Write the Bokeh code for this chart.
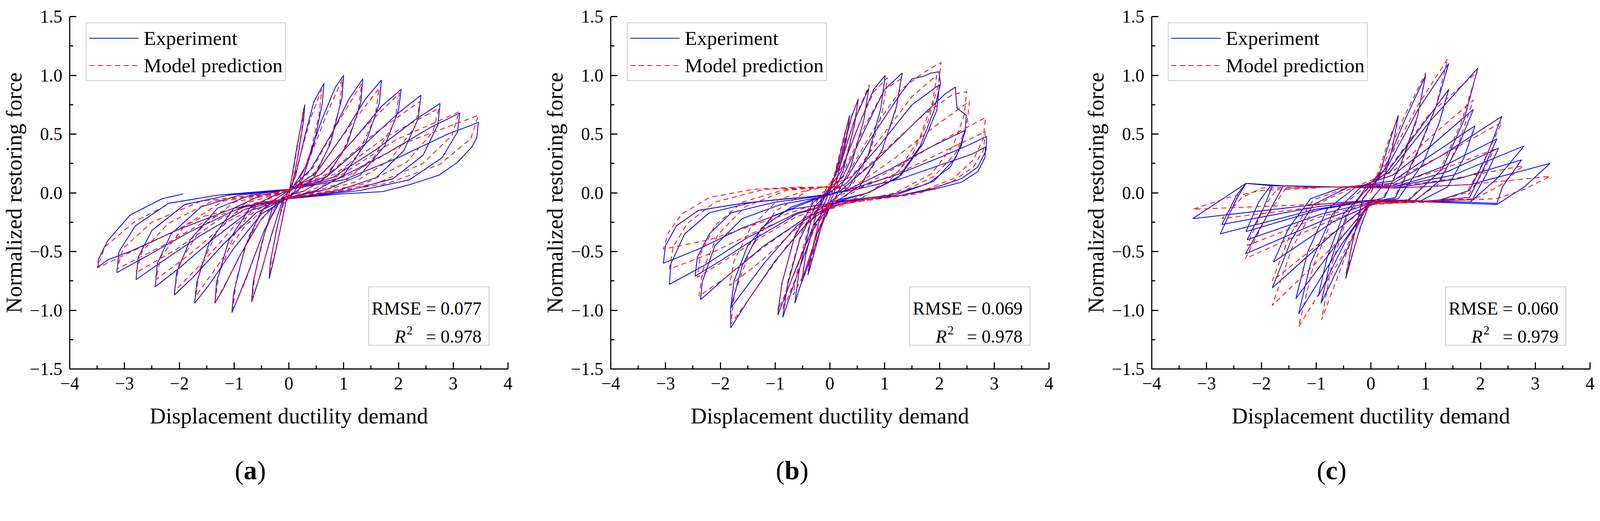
from bokeh.plotting import figure
from bokeh.models import (Range1d, FixedTicker, CustomJSTickFormatter, Legend, LegendItem,
                          BoxAnnotation, Label, Div)
from bokeh.layouts import row, column
from bokeh.embed import file_html
from bokeh.resources import INLINE

FONT = "Liberation Serif"

# ---------------- axis ticks ----------------
x_ticks = [-4, -3, -2, -1, 0, 1, 2, 3, 4]
x_minor = [-3.5, -2.5, -1.5, -0.5, 0.5, 1.5, 2.5, 3.5]
y_ticks = [-1.5, -1.0, -0.5, 0.0, 0.5, 1.0, 1.5]
y_minor = [-1.25, -0.75, -0.25, 0.25, 0.75, 1.25]

x_title = "Displacement ductility demand"
y_title = "Normalized restoring force"
series_names = ["Experiment", "Model prediction"]
panel_tags = ["a", "b", "c"]
rmse_vals = ["0.077", "0.069", "0.060"]
r2_vals = ["0.978", "0.978", "0.979"]

# ---------------- panel (a) ----------------
a_exp = [
(0,0),
(0.05,0.12),(0.15,0.40),(0.24,0.62),(0.29,0.75),(0.27,0.62),(0.17,0.32),(0.06,0.06),(-0.05,-0.07),(-0.16,-0.32),(-0.28,-0.58),(-0.36,-0.73),(-0.34,-0.60),(-0.22,-0.30),(-0.10,-0.07),
(0.00,0.02),(0.12,0.14),(0.30,0.50),(0.46,0.78),(0.64,0.93),(0.61,0.76),(0.46,0.42),(0.26,0.13),(0.06,-0.02),(-0.12,-0.07),(-0.32,-0.36),(-0.52,-0.70),(-0.68,-0.92),(-0.65,-0.76),(-0.49,-0.42),(-0.30,-0.13),(-0.10,-0.03),
(0.05,0.03),(0.30,0.22),(0.60,0.62),(0.85,0.90),(1.00,1.00),(0.97,0.81),(0.76,0.42),(0.46,0.13),(0.10,0.00),(-0.15,-0.06),(-0.45,-0.32),(-0.76,-0.70),(-0.95,-0.92),(-1.04,-1.02),(-1.01,-0.86),(-0.80,-0.46),(-0.50,-0.15),(-0.20,-0.04),
(0.00,0.02),(0.40,0.20),(0.80,0.52),(1.10,0.80),(1.35,0.97),(1.31,0.76),(1.06,0.41),(0.70,0.14),(0.30,0.02),(-0.10,-0.04),(-0.50,-0.22),(-0.90,-0.54),(-1.20,-0.82),(-1.35,-0.94),(-1.32,-0.76),(-1.10,-0.41),(-0.70,-0.12),(-0.30,-0.03),
(0.00,0.02),(0.50,0.17),(1.00,0.50),(1.40,0.80),(1.69,0.96),(1.65,0.76),(1.40,0.42),(1.00,0.15),(0.50,0.02),(0.00,-0.04),(-0.50,-0.18),(-1.00,-0.47),(-1.45,-0.78),(-1.72,-0.94),(-1.68,-0.76),(-1.45,-0.42),(-1.00,-0.13),(-0.50,-0.02),
(0.00,0.03),(0.60,0.16),(1.20,0.46),(1.70,0.74),(2.05,0.88),(2.00,0.70),(1.75,0.40),(1.30,0.15),(0.70,0.03),(0.00,-0.04),(-0.60,-0.17),(-1.20,-0.44),(-1.75,-0.72),(-2.09,-0.87),(-2.05,-0.68),(-1.80,-0.40),(-1.30,-0.13),(-0.70,-0.02),
(0.00,0.03),(0.70,0.14),(1.40,0.42),(2.00,0.68),(2.41,0.83),(2.36,0.63),(2.10,0.36),(1.60,0.13),(0.90,0.02),(0.00,-0.05),(-0.70,-0.15),(-1.40,-0.40),(-2.00,-0.64),(-2.44,-0.80),(-2.40,-0.60),(-2.15,-0.35),(-1.60,-0.12),(-0.90,-0.02),
(0.00,0.03),(0.80,0.13),(1.60,0.37),(2.30,0.62),(2.76,0.76),(2.72,0.58),(2.45,0.32),(1.90,0.12),(1.10,0.02),(0.00,-0.05),(-0.80,-0.14),(-1.60,-0.36),(-2.30,-0.58),(-2.79,-0.74),(-2.75,-0.55),(-2.50,-0.32),(-1.90,-0.10),(-1.10,-0.02),
(0.00,0.03),(0.90,0.12),(1.80,0.34),(2.60,0.56),(3.12,0.68),(3.08,0.52),(2.80,0.30),(2.20,0.11),(1.30,0.02),(0.00,-0.05),(-0.90,-0.13),(-1.80,-0.33),(-2.60,-0.54),(-3.14,-0.68),(-3.10,-0.50),(-2.80,-0.28),(-2.20,-0.09),(-1.30,-0.02),
(0.00,0.03),(1.00,0.11),(2.00,0.30),(2.90,0.50),(3.30,0.57),(3.46,0.60),(3.43,0.47),(3.34,0.39),(3.08,0.26),(2.74,0.15),(2.21,0.07),(1.71,0.01),(0.95,-0.01),(0.00,-0.05),(-1.00,-0.13),(-2.00,-0.31),(-2.90,-0.50),(-3.30,-0.57),(-3.48,-0.63),(-3.48,-0.57),(-3.31,-0.41),(-2.90,-0.19),(-2.31,-0.05),(-1.93,-0.01),
]
a_mod = [
(0,0),
(0.08,0.18),(0.18,0.46),(0.27,0.72),(0.24,0.55),(0.14,0.25),(0.04,0.04),(-0.06,-0.08),(-0.18,-0.36),(-0.35,-0.70),(-0.31,-0.52),(-0.18,-0.22),(-0.06,-0.04),
(0.05,0.05),(0.20,0.30),(0.40,0.64),(0.60,0.88),(0.55,0.66),(0.38,0.32),(0.18,0.08),(0.00,-0.04),(-0.20,-0.18),(-0.45,-0.58),(-0.68,-0.94),(-0.62,-0.70),(-0.44,-0.34),(-0.22,-0.08),(-0.05,-0.01),
(0.10,0.04),(0.35,0.26),(0.70,0.68),(0.98,0.97),(0.92,0.72),(0.70,0.36),(0.40,0.10),(0.08,-0.02),(-0.20,-0.08),(-0.50,-0.38),(-0.80,-0.76),(-1.02,-0.99),(-0.96,-0.74),(-0.74,-0.38),(-0.42,-0.10),(-0.10,-0.01),
(0.10,0.04),(0.45,0.22),(0.90,0.60),(1.33,0.93),(1.26,0.68),(0.98,0.34),(0.60,0.10),(0.15,-0.02),(-0.25,-0.08),(-0.65,-0.32),(-1.05,-0.68),(-1.35,-0.94),(-1.28,-0.70),(-1.00,-0.36),(-0.60,-0.10),(-0.15,-0.01),
(0.10,0.04),(0.55,0.20),(1.10,0.56),(1.65,0.89),(1.57,0.64),(1.25,0.32),(0.80,0.10),(0.20,-0.02),(-0.30,-0.08),(-0.80,-0.28),(-1.30,-0.62),(-1.70,-0.88),(-1.62,-0.64),(-1.30,-0.32),(-0.80,-0.09),(-0.20,-0.01),
(0.10,0.04),(0.65,0.18),(1.35,0.54),(2.02,0.85),(1.93,0.60),(1.55,0.30),(1.00,0.09),(0.25,-0.02),(-0.35,-0.08),(-0.95,-0.26),(-1.55,-0.58),(-2.09,-0.84),(-2.00,-0.60),(-1.60,-0.30),(-1.00,-0.08),(-0.25,-0.01),
(0.10,0.04),(0.75,0.17),(1.55,0.50),(2.40,0.78),(2.30,0.56),(1.85,0.28),(1.20,0.09),(0.30,-0.02),(-0.40,-0.08),(-1.10,-0.24),(-1.80,-0.52),(-2.43,-0.74),(-2.33,-0.54),(-1.90,-0.28),(-1.20,-0.07),(-0.30,-0.01),
(0.10,0.04),(0.85,0.16),(1.75,0.47),(2.74,0.72),(2.63,0.52),(2.15,0.26),(1.40,0.08),(0.35,-0.02),(-0.45,-0.08),(-1.25,-0.22),(-2.05,-0.48),(-2.79,-0.68),(-2.68,-0.50),(-2.20,-0.26),(-1.40,-0.07),(-0.35,-0.01),
(0.10,0.04),(0.95,0.15),(1.95,0.45),(3.11,0.69),(2.98,0.49),(2.45,0.25),(1.60,0.08),(0.40,-0.02),(-0.50,-0.08),(-1.40,-0.21),(-2.30,-0.45),(-3.14,-0.65),(-3.02,-0.47),(-2.50,-0.25),(-1.60,-0.07),(-0.40,-0.01),
(0.10,0.04),(1.05,0.14),(2.15,0.43),(3.46,0.66),(3.32,0.46),(2.75,0.24),(1.80,0.08),(0.45,-0.02),(-0.55,-0.08),(-1.55,-0.20),(-2.55,-0.43),(-3.50,-0.64),(-3.36,-0.46),(-2.80,-0.24),(-2.20,-0.10),
]

# ---------------- panel (b) ----------------
b_exp = [
(0,0),
(0.15,0.25),(0.30,0.55),(0.36,0.66),(0.30,0.45),(0.12,0.10),(-0.05,-0.10),(-0.25,-0.45),(-0.40,-0.70),(-0.33,-0.50),(-0.15,-0.15),(0.00,0.02),
(0.20,0.30),(0.40,0.65),(0.52,0.80),(0.45,0.58),(0.25,0.20),(0.02,-0.06),(-0.20,-0.35),(-0.40,-0.62),(-0.51,-0.76),(-0.45,-0.55),(-0.25,-0.18),(-0.05,0.00),
(0.20,0.25),(0.45,0.62),(0.71,0.89),(0.62,0.62),(0.38,0.22),(0.08,-0.06),(-0.20,-0.30),(-0.45,-0.66),(-0.64,-0.94),(-0.56,-0.66),(-0.35,-0.25),(-0.08,0.00),
(0.20,0.18),(0.55,0.60),(0.80,0.88),(1.01,1.00),(0.93,0.72),(0.70,0.32),(0.35,0.05),(0.00,-0.08),(-0.30,-0.28),(-0.65,-0.68),(-0.95,-1.04),(-0.88,-0.78),(-0.65,-0.38),(-0.30,-0.08),(-0.05,0.00),
(0.25,0.15),(0.65,0.55),(1.00,0.88),(1.32,1.02),(1.22,0.74),(0.95,0.36),(0.55,0.06),(0.10,-0.08),(-0.25,-0.25),(-0.60,-0.70),(-0.86,-1.06),(-0.78,-0.80),(-0.55,-0.40),(-0.25,-0.10),(0.00,0.00),
(0.30,0.12),(0.80,0.50),(1.30,0.85),(1.50,0.97),(1.70,0.99),(1.85,1.02),(1.99,1.03),(2.02,0.93),(1.90,0.70),(1.65,0.40),(1.25,0.13),(0.70,0.00),(0.10,-0.08),(-0.40,-0.25),(-1.00,-0.58),(-1.50,-0.92),(-1.81,-1.15),(-1.81,-0.98),(-1.60,-0.62),(-1.25,-0.30),(-0.70,-0.12),(-0.15,-0.03),
(0.30,0.08),(0.90,0.40),(1.50,0.75),(2.00,0.92),(1.95,0.70),(1.70,0.42),(1.30,0.15),(0.70,0.00),(0.00,-0.08),(-0.60,-0.28),(-1.20,-0.60),(-1.81,-0.98),(-1.75,-0.75),(-1.50,-0.45),(-1.05,-0.20),(-0.40,-0.08),
(0.20,0.02),(0.90,0.30),(1.60,0.62),(2.10,0.84),(2.29,0.90),(2.32,0.72),(2.49,0.66),(2.47,0.52),(2.30,0.30),(1.90,0.10),(1.20,-0.02),(0.30,-0.08),(-0.40,-0.20),(-1.20,-0.45),(-1.90,-0.72),(-2.36,-0.91),(-2.33,-0.76),(-2.10,-0.45),(-1.60,-0.22),(-0.90,-0.10),(-0.20,-0.04),
(0.30,0.02),(1.10,0.20),(1.80,0.38),(2.46,0.53),(2.40,0.40),(2.20,0.22),(1.80,0.08),(1.10,-0.02),(0.20,-0.07),(-0.60,-0.18),(-1.40,-0.40),(-2.00,-0.58),(-2.46,-0.71),(-2.42,-0.55),(-2.20,-0.35),(-1.80,-0.17),(-1.00,-0.08),(-0.20,-0.03),
(0.30,0.02),(1.20,0.15),(2.00,0.30),(2.50,0.40),(2.86,0.48),(2.85,0.36),(2.70,0.22),(2.40,0.12),(1.90,0.04),(1.20,-0.03),(0.30,-0.07),(-0.60,-0.17),(-1.50,-0.38),(-2.30,-0.62),(-2.93,-0.78),(-2.90,-0.60),(-2.65,-0.35),(-2.20,-0.17),(-1.40,-0.08),(-0.30,-0.03),
(0.40,0.02),(1.30,0.12),(2.10,0.25),(2.60,0.33),(2.84,0.39),(2.83,0.30),(2.70,0.18),(2.40,0.09),(1.90,0.03),(1.20,-0.03),(0.30,-0.07),(-0.70,-0.14),(-1.60,-0.30),(-2.40,-0.48),(-3.04,-0.60),(-3.00,-0.45),(-2.80,-0.28),(-2.40,-0.15),(-1.60,-0.09),(-0.80,-0.05),(0.00,-0.02),
]
b_mod = [
(0,0),
(0.15,0.28),(0.30,0.56),(0.36,0.64),(0.28,0.42),(0.10,0.08),(-0.08,-0.14),(-0.28,-0.48),(-0.40,-0.66),(-0.30,-0.44),(-0.12,-0.10),(0.02,0.04),
(0.20,0.34),(0.40,0.66),(0.52,0.80),(0.43,0.55),(0.22,0.16),(0.00,-0.08),(-0.22,-0.38),(-0.42,-0.64),(-0.52,-0.76),(-0.44,-0.52),(-0.22,-0.14),(-0.02,0.04),
(0.22,0.30),(0.48,0.66),(0.72,0.92),(0.62,0.62),(0.36,0.20),(0.06,-0.08),(-0.22,-0.34),(-0.46,-0.68),(-0.67,-0.87),(-0.58,-0.62),(-0.34,-0.22),(-0.06,0.04),
(0.22,0.22),(0.55,0.60),(0.80,0.86),(1.05,0.98),(0.96,0.70),(0.70,0.30),(0.35,0.02),(0.00,-0.08),(-0.32,-0.32),(-0.66,-0.70),(-0.95,-1.00),(-0.86,-0.74),(-0.62,-0.34),(-0.28,-0.04),(0.00,0.04),
(0.25,0.18),(0.65,0.58),(1.00,0.88),(1.30,0.97),(1.20,0.70),(0.92,0.32),(0.50,0.02),(0.05,-0.08),(-0.28,-0.30),(-0.60,-0.70),(-0.86,-1.00),(-0.76,-0.74),(-0.52,-0.34),(-0.20,-0.04),(0.05,0.05),
(0.35,0.18),(0.85,0.58),(1.30,0.88),(1.70,1.02),(2.03,1.11),(1.98,0.92),(1.80,0.62),(1.50,0.32),(1.05,0.08),(0.40,-0.06),(-0.20,-0.16),(-0.80,-0.46),(-1.35,-0.82),(-1.81,-1.12),(-1.74,-0.86),(-1.45,-0.48),(-1.00,-0.16),(-0.40,0.02),(0.00,0.06),
(0.40,0.14),(0.95,0.48),(1.50,0.82),(1.95,1.00),(1.88,0.78),(1.65,0.48),(1.25,0.18),(0.60,-0.04),(0.00,-0.10),(-0.60,-0.30),(-1.25,-0.58),(-1.83,-0.79),(-1.75,-0.58),(-1.45,-0.30),(-0.95,-0.06),(-0.30,0.04),
(0.30,0.06),(1.00,0.36),(1.70,0.66),(2.25,0.84),(2.50,0.86),(2.45,0.66),(2.25,0.40),(1.85,0.16),(1.20,0.00),(0.40,-0.08),(-0.40,-0.20),(-1.20,-0.46),(-1.90,-0.72),(-2.39,-0.88),(-2.32,-0.66),(-2.05,-0.36),(-1.55,-0.12),(-0.80,0.02),(-0.10,0.05),
(0.40,0.04),(1.20,0.30),(1.90,0.56),(2.55,0.78),(2.50,0.58),(2.30,0.34),(1.90,0.14),(1.20,-0.02),(0.30,-0.08),(-0.60,-0.20),(-1.40,-0.42),(-2.00,-0.60),(-2.42,-0.72),(-2.36,-0.52),(-2.10,-0.28),(-1.60,-0.08),(-0.80,0.03),(-0.10,0.05),
(0.50,0.03),(1.30,0.24),(2.10,0.46),(2.60,0.58),(2.84,0.64),(2.80,0.46),(2.62,0.28),(2.25,0.12),(1.60,0.00),(0.60,-0.07),(-0.40,-0.14),(-1.30,-0.32),(-2.20,-0.52),(-2.93,-0.65),(-2.86,-0.46),(-2.60,-0.26),(-2.10,-0.08),(-1.20,0.03),(-0.20,0.05),
(0.50,0.03),(1.40,0.20),(2.20,0.38),(2.84,0.52),(2.80,0.36),(2.62,0.22),(2.25,0.10),(1.60,-0.01),(0.60,-0.07),(-0.40,-0.12),(-1.30,-0.26),(-2.20,-0.40),(-3.04,-0.48),(-2.95,-0.34),(-2.70,-0.18),(-2.20,-0.04),(-1.40,0.03),(-0.50,0.05),
]

# ---------------- panel (c) ----------------
c_exp = [
(0,0),
(0.15,0.15),(0.35,0.45),(0.50,0.66),(0.40,0.40),(0.20,0.05),(0.00,-0.06),(-0.20,-0.30),(-0.46,-0.73),(-0.35,-0.45),(-0.15,-0.05),(0.00,0.04),
(0.25,0.20),(0.60,0.60),(1.00,1.00),(0.85,0.65),(0.55,0.25),(0.25,-0.04),(-0.05,-0.08),(-0.40,-0.45),(-0.91,-0.94),(-0.75,-0.60),(-0.45,-0.20),(-0.10,0.04),
(0.30,0.22),(0.85,0.70),(1.42,1.10),(1.20,0.75),(0.85,0.35),(0.45,-0.04),(0.00,-0.08),(-0.45,-0.40),(-0.96,-0.88),(-0.80,-0.55),(-0.50,-0.18),(-0.05,0.04),
(0.30,0.18),(0.90,0.55),(1.42,0.88),(1.25,0.60),(0.95,0.25),(0.50,-0.05),(0.00,-0.08),(-0.55,-0.45),(-1.32,-1.03),(-1.10,-0.60),(-0.70,-0.18),(-0.20,0.04),
(0.35,0.18),(1.10,0.62),(1.95,1.06),(1.70,0.62),(1.30,0.20),(0.70,-0.06),(0.00,-0.08),(-0.60,-0.42),(-1.37,-0.90),(-1.15,-0.50),(-0.80,-0.14),(-0.30,0.04),
(0.40,0.15),(1.10,0.40),(1.87,0.71),(1.60,0.40),(1.25,0.10),(0.80,-0.07),(0.00,-0.08),(-0.70,-0.35),(-1.80,-0.81),(-1.45,-0.40),(-1.05,-0.10),(-0.40,0.05),
(0.40,0.10),(1.10,0.32),(1.90,0.57),(1.70,0.30),(1.40,0.05),(0.90,-0.07),(0.10,-0.08),(-0.70,-0.25),(-1.78,-0.59),(-1.50,-0.30),(-1.10,-0.05),(-0.50,0.05),
(0.40,0.08),(1.30,0.32),(2.39,0.65),(2.10,0.30),(1.80,0.02),(1.20,-0.07),(0.10,-0.07),(-0.80,-0.22),(-2.29,-0.52),(-1.90,-0.20),(-1.60,0.06),(-0.60,0.05),
(0.40,0.06),(1.30,0.22),(2.30,0.46),(2.05,0.20),(1.80,-0.04),(1.00,-0.07),(0.10,-0.07),(-0.90,-0.18),(-2.26,-0.40),(-1.95,-0.12),(-1.80,0.06),(-0.80,0.05),
(0.40,0.05),(1.40,0.18),(2.33,0.38),(2.10,0.15),(1.85,-0.06),(1.00,-0.07),(0.10,-0.06),(-0.90,-0.14),(-2.28,-0.33),(-2.05,-0.08),(-1.83,0.06),(-0.80,0.05),
(0.40,0.05),(1.50,0.15),(2.80,0.40),(2.30,0.12),(1.81,-0.08),(1.00,-0.07),(0.10,-0.06),(-1.00,-0.14),(-2.75,-0.35),(-2.45,-0.05),(-2.28,0.08),(-1.80,0.06),(-0.80,0.05),
(0.40,0.04),(1.60,0.12),(2.75,0.28),(2.40,0.05),(2.30,-0.09),(1.20,-0.07),(0.10,-0.06),(-1.00,-0.12),(-2.72,-0.27),(-2.45,-0.02),(-2.28,0.08),(-1.60,0.06),(-0.60,0.05),
(0.40,0.04),(1.81,0.07),(3.27,0.25),(2.80,0.05),(2.30,-0.10),(1.20,-0.08),(0.10,-0.06),(-1.00,-0.10),(-3.25,-0.22),(-2.28,0.08),(-1.60,0.06),(-0.60,0.05),
]
c_mod = [
(0,0),
(0.15,0.20),(0.35,0.48),(0.50,0.64),(0.38,0.36),(0.18,0.04),(-0.02,-0.08),(-0.22,-0.34),(-0.46,-0.70),(-0.33,-0.40),(-0.12,-0.04),(0.02,0.05),
(0.25,0.26),(0.62,0.66),(1.00,1.02),(0.84,0.62),(0.52,0.20),(0.20,-0.06),(-0.10,-0.10),(-0.45,-0.52),(-0.90,-1.08),(-0.72,-0.62),(-0.40,-0.16),(-0.05,0.05),
(0.30,0.26),(0.85,0.74),(1.40,1.14),(1.18,0.72),(0.82,0.30),(0.40,-0.06),(-0.05,-0.10),(-0.55,-0.56),(-1.32,-1.14),(-1.05,-0.62),(-0.65,-0.16),(-0.10,0.05),
(0.35,0.22),(1.05,0.66),(1.94,1.03),(1.65,0.60),(1.25,0.18),(0.65,-0.07),(0.00,-0.10),(-0.70,-0.46),(-1.80,-0.96),(-1.45,-0.48),(-1.00,-0.10),(-0.30,0.05),
(0.40,0.18),(1.10,0.48),(1.87,0.79),(1.60,0.42),(1.25,0.08),(0.75,-0.08),(0.00,-0.10),(-0.75,-0.36),(-1.80,-0.75),(-1.48,-0.36),(-1.05,-0.06),(-0.40,0.05),
(0.40,0.10),(1.30,0.32),(2.39,0.60),(2.05,0.26),(1.75,0.00),(1.10,-0.08),(0.10,-0.09),(-0.85,-0.26),(-2.29,-0.56),(-1.90,-0.20),(-1.55,0.04),(-0.60,0.05),
(0.40,0.07),(1.30,0.20),(2.25,0.37),(2.00,0.14),(1.75,-0.04),(1.00,-0.08),(0.10,-0.08),(-0.90,-0.20),(-2.26,-0.45),(-1.95,-0.12),(-1.70,0.04),(-0.70,0.05),
(0.40,0.05),(1.50,0.12),(2.78,0.23),(2.35,0.06),(1.90,-0.05),(1.00,-0.07),(0.10,-0.07),(-1.00,-0.12),(-2.72,-0.22),(-2.35,-0.04),(-2.00,0.04),(-0.80,0.05),
(0.40,0.04),(1.80,0.07),(3.27,0.14),(2.80,0.03),(2.30,-0.05),(1.20,-0.07),(0.10,-0.07),(-1.10,-0.10),(-3.25,-0.14),(-2.60,-0.04),(-2.00,0.02),(-1.00,0.04),
]

exp_series = [a_exp, b_exp, c_exp]
mod_series = [a_mod, b_mod, c_mod]
box_shift = [0.0, 0.0, -0.095]
right_borders = [85, 85, 18]

MINUS = "\u2212"


def make_panel(exp, mod, rmse, r2, right_border, dx):
    p = figure(frame_width=1122, frame_height=903,
               x_range=Range1d(-4, 4), y_range=Range1d(-1.5, 1.5),
               output_backend="svg", toolbar_location=None,
               min_border_left=177, min_border_right=right_border,
               min_border_top=42, min_border_bottom=182,
               x_axis_label=x_title, y_axis_label=y_title)
    p.outline_line_color = None
    p.xgrid.visible = False
    p.ygrid.visible = False
    p.background_fill_color = "white"
    p.border_fill_color = "white"

    xa = p.xaxis[0]
    ya = p.yaxis[0]
    xa.ticker = FixedTicker(ticks=x_ticks, minor_ticks=x_minor)
    ya.ticker = FixedTicker(ticks=y_ticks, minor_ticks=y_minor)
    xa.formatter = CustomJSTickFormatter(
        code="return (tick < 0 ? '" + MINUS + "' : '') + Math.abs(tick).toFixed(0);")
    ya.formatter = CustomJSTickFormatter(
        code="return (tick < 0 ? '" + MINUS + "' : '') + Math.abs(tick).toFixed(1);")
    for ax in (xa, ya):
        ax.axis_line_width = 2.85
        ax.axis_line_color = "black"
        ax.major_tick_line_width = 2.85
        ax.minor_tick_line_width = 2.85
        ax.major_tick_line_color = "black"
        ax.minor_tick_line_color = "black"
        ax.major_tick_in = 17
        ax.major_tick_out = 0
        ax.minor_tick_in = 9
        ax.minor_tick_out = 0
        ax.major_label_text_font = FONT
        ax.major_label_text_font_size = "45.7px"
        ax.major_label_text_color = "black"
        ax.axis_label_text_font = FONT
        ax.axis_label_text_font_size = "57px"
        ax.axis_label_text_font_style = "normal"
        ax.axis_label_text_color = "black"
    xa.major_label_standoff = 21
    ya.major_label_standoff = 19
    xa.axis_label_standoff = 33
    ya.axis_label_standoff = 7

    ex = [pt[0] for pt in exp]
    ey = [pt[1] for pt in exp]
    mx = [pt[0] for pt in mod]
    my = [pt[1] for pt in mod]
    r_exp = p.line(ex, ey, line_color="#0000ff", line_width=2.1)
    r_mod = p.line(mx, my, line_color="#ff0000", line_width=2.1, line_dash="13 9")

    leg = Legend(items=[LegendItem(label=series_names[0], renderers=[r_exp]),
                        LegendItem(label=series_names[1], renderers=[r_mod])],
                 location=(42, 738), orientation="vertical",
                 glyph_width=127, glyph_height=63, label_height=63,
                 label_standoff=13, spacing=7, padding=7, margin=0,
                 label_text_font=FONT, label_text_font_size="51.4px",
                 label_text_color="black",
                 border_line_color="#404040", border_line_width=1.9,
                 background_fill_color="white", background_fill_alpha=1.0)
    p.add_layout(leg)

    p.add_layout(BoxAnnotation(left=1.455 + dx, right=3.653 + dx, top=-0.801, bottom=-1.298,
                               fill_color=None, line_color="#404040", line_width=1.9))
    common = dict(text_font=FONT, text_color="black", text_baseline="alphabetic")
    p.add_layout(Label(x=3.518 + dx, y=-0.985, text="RMSE = " + rmse, text_align="right",
                       text_font_size="46.6px", **common))
    p.add_layout(Label(x=3.518 + dx, y=-1.222, text="= " + r2, text_align="right",
                       text_font_size="46.6px", **common))
    p.add_layout(Label(x=1.930 + dx, y=-1.222, text="R", text_align="left",
                       text_font_size="46.6px", text_font_style="italic", **common))
    p.add_layout(Label(x=2.148 + dx, y=-1.171, text="2", text_align="left",
                       text_font_size="31.4px", **common))
    return p


def make_tag(tag):
    return Div(text="(<b>" + tag + "</b>)", width=110, height=72,
               margin=(44, 0, 0, 601),
               styles={"font-family": FONT, "font-size": "68.5px", "line-height": "1",
                       "color": "black", "white-space": "nowrap"})


cols = []
for i in range(3):
    fig = make_panel(exp_series[i], mod_series[i], rmse_vals[i], r2_vals[i],
                     right_borders[i], box_shift[i])
    cols.append(column(fig, make_tag(panel_tags[i]), spacing=0))

layout = row(*cols, spacing=0)
open("out.html", "w").write(file_html(layout, INLINE))
